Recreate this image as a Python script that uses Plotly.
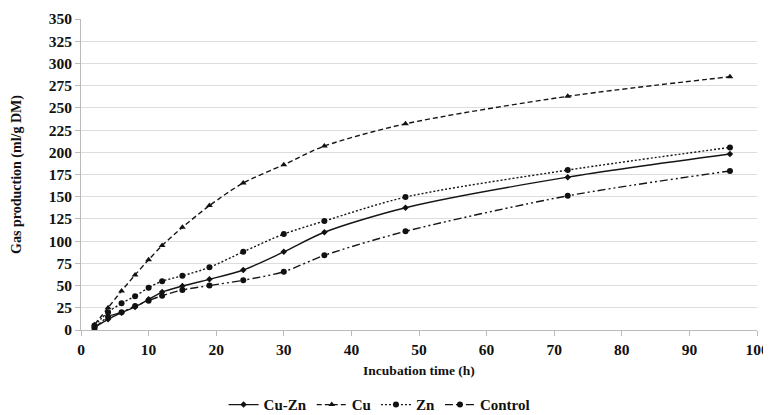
import plotly.graph_objects as go

time_h = [2, 4, 6, 8, 10, 12, 15, 19, 24, 30, 36, 48, 72, 96]
cu_zn = [3, 12, 19.5, 26, 34.5, 42.7, 49.5, 57, 67.5, 88, 110, 137.6, 172, 198]
cu = [6, 25, 44, 62, 79, 95, 115.5, 140, 165.5, 186, 207, 232, 263, 285]
zn = [5, 20, 30, 38, 47.6, 55, 61, 70.5, 88, 108, 122.6, 149.6, 180, 205.5]
control = [2, 15, 20, 27, 33, 38.6, 45, 50, 56, 65.6, 84, 111, 151, 179]

series = [
    ("Cu-Zn", cu_zn, "solid", "diamond", 5),
    ("Cu", cu, "5px,3px", "triangle-up", 6),
    ("Zn", zn, "2px,2px", "circle", 6),
    ("Control", control, "8px,3px,2px,3px,2px,3px", "circle", 6),
]

fig = go.Figure()
for name, vals, dash, sym, sz in series:
    fig.add_trace(go.Scatter(
        x=time_h, y=vals, name=name, mode="lines+markers",
        line=dict(color="#151515", width=1.4, dash=dash, shape="spline", smoothing=0.8),
        marker=dict(symbol=sym, size=sz, color="#111111"),
    ))

font_family = "Liberation Serif"
fig.update_layout(
    width=763, height=407,
    margin=dict(l=73, r=14, t=11, b=85),
    paper_bgcolor="white", plot_bgcolor="white",
    font=dict(family=font_family, size=12, color="#111111"),
    showlegend=True,
    legend=dict(orientation="h", x=0.487, xanchor="center", xref="container",
                y=0.025, yanchor="middle", yref="container",
                font=dict(family=font_family, size=15, color="#111111", weight="bold"),
                tracegroupgap=0),
)
fig.update_xaxes(
    range=[0, 100], dtick=10, tick0=0, automargin=False, ticklabeloverflow="allow",
    showgrid=False, showline=True, linecolor="#bbbbbb", linewidth=1,
    ticks="outside", ticklen=5, tickcolor="#bbbbbb",
    tickfont=dict(family=font_family, size=15.5, color="#111111", weight="bold"),
    title=dict(text="<b>Incubation time (h)</b>", font=dict(family=font_family, size=13.5), standoff=8),
    zeroline=False,
)
fig.update_yaxes(
    range=[0, 350], dtick=25, tick0=0, automargin=False,
    showgrid=True, gridcolor="#dddddd", gridwidth=1,
    showline=True, linecolor="#bbbbbb", linewidth=1,
    ticks="outside", ticklen=5, tickcolor="#bbbbbb",
    tickfont=dict(family=font_family, size=15.5, color="#111111", weight="bold"),
    title=dict(text="<b>Gas production (ml/g DM)</b>", font=dict(family=font_family, size=14), standoff=23),
    zeroline=False,
)
fig.write_html("out.html")
